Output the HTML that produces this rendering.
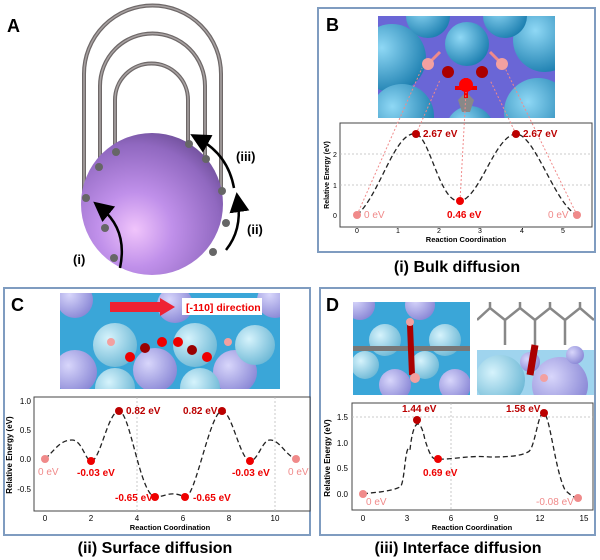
<!DOCTYPE html>
<html><head><meta charset="utf-8"><style>
body{margin:0;background:#fff}
svg{display:block;font-family:"Liberation Sans",sans-serif}
</style></head><body>
<svg width="600" height="560" viewBox="0 0 600 560" xmlns="http://www.w3.org/2000/svg">
<defs>
<radialGradient id="sph" cx="0.38" cy="0.68" r="0.75"><stop offset="0" stop-color="#f0c4fb"/><stop offset="0.35" stop-color="#c090ea"/><stop offset="0.8" stop-color="#9068c0"/><stop offset="1" stop-color="#6c4d96"/></radialGradient>
<radialGradient id="bl" cx="0.35" cy="0.35" r="0.7"><stop offset="0" stop-color="#8fd8f5"/><stop offset="1" stop-color="#1d7fb0"/></radialGradient>
<radialGradient id="lb" cx="0.35" cy="0.35" r="0.7"><stop offset="0" stop-color="#d6f3fc"/><stop offset="1" stop-color="#6fb9d6"/></radialGradient>
<radialGradient id="lv" cx="0.35" cy="0.35" r="0.7"><stop offset="0" stop-color="#d8d6fb"/><stop offset="1" stop-color="#8a88d6"/></radialGradient>
<marker id="ah" markerWidth="8" markerHeight="8" refX="4" refY="4" orient="auto"><path d="M0,0 L8,4 L0,8 Z" fill="#000"/></marker>
</defs>

<!-- Panel A -->
<text x="7" y="32" font-size="18" font-weight="bold">A</text>
<g fill="none" stroke="#6e6868" stroke-width="4">
<path d="M84,196 V74 A68.5,68.5 0 0 1 221,74 V192"/>
<path d="M100,168 V86 A52.5,52.5 0 0 1 205,86 V160"/>
<path d="M115,153 V100 A36.5,36.5 0 0 1 188,100 V145"/>
</g>
<g fill="none" stroke="#a8a2a2" stroke-width="1.5">
<path d="M84,196 V74 A68.5,68.5 0 0 1 221,74 V192"/>
<path d="M100,168 V86 A52.5,52.5 0 0 1 205,86 V160"/>
<path d="M115,153 V100 A36.5,36.5 0 0 1 188,100 V145"/>
</g>
<circle cx="152" cy="204" r="71" fill="url(#sph)"/>
<g fill="#666">
<circle cx="86" cy="198" r="4"/><circle cx="99" cy="167" r="4"/><circle cx="116" cy="152" r="4"/>
<circle cx="189" cy="144" r="4"/><circle cx="206" cy="159" r="4"/><circle cx="222" cy="191" r="4"/>
<circle cx="105" cy="228" r="4"/><circle cx="114" cy="258" r="4"/><circle cx="226" cy="223" r="4"/><circle cx="213" cy="252" r="4"/>
</g>
<g fill="none" stroke="#000" stroke-width="2.5">
<path d="M120,268 Q128,230 101,208" marker-end="url(#ah)"/>
<path d="M226,250 Q242,230 238,202" marker-end="url(#ah)"/>
<path d="M234,188 Q228,155 199,139" marker-end="url(#ah)"/>
</g>
<g font-size="13" font-weight="bold">
<text x="73" y="264">(i)</text><text x="247" y="234">(ii)</text><text x="236" y="161">(iii)</text>
</g>

<!-- Panel B -->
<rect x="318" y="8" width="277" height="244" fill="none" stroke="#7f9cc0" stroke-width="2"/>
<text x="326" y="31" font-size="18" font-weight="bold">B</text>
<g>
<rect x="378" y="16" width="177" height="102" fill="#6a66d6"/>
<clipPath id="cb"><rect x="378" y="16" width="177" height="102"/></clipPath>
<g clip-path="url(#cb)" fill="url(#bl)">
<circle cx="392" cy="58" r="34"/><circle cx="467" cy="44" r="22"/><circle cx="545" cy="40" r="32"/>
<circle cx="402" cy="116" r="32"/><circle cx="538" cy="112" r="34"/><circle cx="428" cy="16" r="22"/><circle cx="505" cy="16" r="22"/>
<circle cx="470" cy="130" r="24"/>
</g>
<path d="M458,100 L466,92 L474,100 L470,112 L462,112 Z" fill="#888"/>
<g stroke="#f08a8a" stroke-width="3"><line x1="428" y1="64" x2="440" y2="52"/><line x1="502" y1="64" x2="490" y2="52"/></g>
<circle cx="428" cy="64" r="6" fill="#f3a0a0"/><circle cx="502" cy="64" r="6" fill="#f3a0a0"/>
<circle cx="448" cy="72" r="6" fill="#a00"/><circle cx="482" cy="72" r="6" fill="#a00"/>
<path d="M455,88 H477 M466,78 V98" stroke="#e00" stroke-width="4"/>
<circle cx="466" cy="85" r="7" fill="#f00"/>
</g>
<rect x="340" y="123" width="252" height="104" fill="#fff" stroke="#444" stroke-width="1"/>
<g stroke="#bbb" stroke-dasharray="2,2" stroke-width="0.8"><line x1="340" y1="185" x2="592" y2="185"/><line x1="340" y1="154" x2="592" y2="154"/></g>
<g stroke="#f08a8a" stroke-dasharray="2,2" stroke-width="1"><line x1="357" y1="215" x2="422" y2="68"/><line x1="416" y1="134" x2="440" y2="80"/><line x1="460" y1="201" x2="466" y2="92"/><line x1="516" y1="134" x2="490" y2="80"/><line x1="577" y1="215" x2="505" y2="68"/></g>
<path d="M357,215 C380,195 395,130 416,134 C430,137 440,204 460,201 C480,198 495,135 516,134 C535,134 555,205 577,215" fill="none" stroke="#222" stroke-width="1.3" stroke-dasharray="5,3"/>
<circle cx="357" cy="215" r="4" fill="#f08a8a"/><circle cx="416" cy="134" r="4" fill="#b00"/><circle cx="460" cy="201" r="4" fill="#e00"/><circle cx="516" cy="134" r="4" fill="#b00"/><circle cx="577" cy="215" r="4" fill="#f08a8a"/>
<g font-size="10" font-weight="bold"><text x="423" y="137" fill="#b00">2.67 eV</text><text x="523" y="137" fill="#b00">2.67 eV</text><text x="447" y="218" fill="#e00">0.46 eV</text></g>
<g font-size="10" fill="#f08a8a"><text x="364" y="218">0 eV</text><text x="548" y="218">0 eV</text></g>
<g font-size="7" text-anchor="middle"><text x="357" y="233">0</text><text x="398" y="233">1</text><text x="439" y="233">2</text><text x="480" y="233">3</text><text x="522" y="233">4</text><text x="563" y="233">5</text>
<text x="335" y="218">0</text><text x="335" y="188">1</text><text x="335" y="157">2</text></g>
<text x="466" y="242" font-size="7.5" font-weight="bold" text-anchor="middle">Reaction Coordination</text>
<text transform="translate(329,175) rotate(-90)" font-size="7" font-weight="bold" text-anchor="middle">Relative Energy (eV)</text>
<text x="457" y="272" font-size="16" font-weight="bold" text-anchor="middle">(i) Bulk diffusion</text>

<!-- Panel C -->
<rect x="4" y="288" width="306" height="247" fill="none" stroke="#7f9cc0" stroke-width="2"/>
<text x="11" y="311" font-size="18" font-weight="bold">C</text>
<rect x="60" y="293" width="220" height="96" fill="#3aa6d8"/>
<clipPath id="cc"><rect x="60" y="293" width="220" height="96"/></clipPath>
<g clip-path="url(#cc)">
<g fill="url(#lv)"><circle cx="75" cy="300" r="18"/><circle cx="175" cy="305" r="18"/><circle cx="275" cy="300" r="18"/>
<circle cx="75" cy="372" r="22"/><circle cx="155" cy="370" r="22"/><circle cx="235" cy="372" r="22"/></g>
<g fill="url(#lb)"><circle cx="115" cy="345" r="22"/><circle cx="195" cy="345" r="22"/><circle cx="255" cy="345" r="20"/><circle cx="115" cy="388" r="20"/><circle cx="200" cy="388" r="20"/></g>
</g>
<rect x="110" y="302" width="55" height="10" fill="#e23"/><path d="M160,298 L175,307 L160,316 Z" fill="#e23"/>
<rect x="182" y="298" width="80" height="17" fill="#fff"/>
<text x="186" y="311" font-size="10.5" font-weight="bold" fill="#e00">[-110] direction</text>
<g fill="#e00"><circle cx="130" cy="357" r="5"/><circle cx="162" cy="342" r="5"/><circle cx="178" cy="342" r="5"/><circle cx="207" cy="357" r="5"/></g>
<g fill="#900"><circle cx="145" cy="348" r="5"/><circle cx="192" cy="350" r="5"/></g>
<g fill="#f2a0a0"><circle cx="111" cy="342" r="4"/><circle cx="228" cy="342" r="4"/></g>
<rect x="34" y="397" width="276" height="114" fill="#fff" stroke="#444" stroke-width="1"/>
<g stroke="#bbb" stroke-dasharray="2,2" stroke-width="0.8"><line x1="137" y1="397" x2="137" y2="511"/><line x1="275" y1="397" x2="275" y2="511"/></g>
<path d="M45,459 C55,450 60,440 72,440 C82,440 85,460 91,461 C100,462 108,411 119,411 C130,411 140,495 155,497 C165,497 170,490 185,497 C195,500 210,411 222,411 C232,411 240,460 250,461 C258,461 262,440 270,440 C280,440 285,455 296,459" fill="none" stroke="#222" stroke-width="1.3" stroke-dasharray="5,3"/>
<circle cx="45" cy="459" r="4" fill="#f08a8a"/><circle cx="91" cy="461" r="4" fill="#e00"/><circle cx="119" cy="411" r="4" fill="#b00"/><circle cx="155" cy="497" r="4" fill="#e00"/><circle cx="185" cy="497" r="4" fill="#e00"/><circle cx="222" cy="411" r="4" fill="#b00"/><circle cx="250" cy="461" r="4" fill="#e00"/><circle cx="296" cy="459" r="4" fill="#f08a8a"/>
<g font-size="10" font-weight="bold"><text x="126" y="414" fill="#b00">0.82 eV</text><text x="183" y="414" fill="#b00">0.82 eV</text>
<text x="77" y="476" fill="#e00">-0.03 eV</text><text x="232" y="476" fill="#e00">-0.03 eV</text><text x="115" y="501" fill="#e00">-0.65 eV</text><text x="193" y="501" fill="#e00">-0.65 eV</text></g>
<g font-size="10" fill="#f08a8a"><text x="38" y="475">0 eV</text><text x="288" y="475">0 eV</text></g>
<g font-size="8" text-anchor="middle"><text x="45" y="521">0</text><text x="91" y="521">2</text><text x="137" y="521">4</text><text x="183" y="521">6</text><text x="229" y="521">8</text><text x="275" y="521">10</text></g>
<g font-size="8" text-anchor="end"><text x="31" y="404">1.0</text><text x="31" y="433">0.5</text><text x="31" y="462">0.0</text><text x="31" y="492">-0.5</text></g>
<text x="170" y="530" font-size="7.5" font-weight="bold" text-anchor="middle">Reaction Coordination</text>
<text transform="translate(12,455) rotate(-90)" font-size="8" font-weight="bold" text-anchor="middle">Relative Energy (eV)</text>
<text x="155" y="553" font-size="16" font-weight="bold" text-anchor="middle">(ii) Surface diffusion</text>

<!-- Panel D -->
<rect x="320" y="288" width="275" height="247" fill="none" stroke="#7f9cc0" stroke-width="2"/>
<text x="326" y="311" font-size="18" font-weight="bold">D</text>
<rect x="353" y="302" width="117" height="93" fill="#3aa6d8"/>
<clipPath id="cd1"><rect x="353" y="302" width="117" height="93"/></clipPath>
<g clip-path="url(#cd1)">
<g fill="url(#lv)"><circle cx="360" cy="305" r="15"/><circle cx="420" cy="305" r="15"/><circle cx="395" cy="385" r="16"/><circle cx="455" cy="385" r="16"/></g>
<g fill="url(#lb)"><circle cx="385" cy="340" r="16"/><circle cx="445" cy="340" r="16"/><circle cx="365" cy="365" r="14"/><circle cx="425" cy="365" r="14"/></g>
</g>
<rect x="353" y="346" width="117" height="5" fill="#777"/>
<path d="M410,325 L412,375" stroke="#a00" stroke-width="6"/><circle cx="410" cy="322" r="4" fill="#f2a0a0"/><circle cx="415" cy="378" r="5" fill="#f2a0a0"/>
<rect x="477" y="302" width="117" height="93" fill="#fff"/>
<clipPath id="cd2"><rect x="477" y="302" width="117" height="93"/></clipPath>
<g clip-path="url(#cd2)">
<rect x="477" y="350" width="117" height="45" fill="#9fd4ee"/>
<g fill="url(#lv)"><circle cx="560" cy="385" r="28"/><circle cx="530" cy="362" r="10"/><circle cx="575" cy="355" r="9"/></g>
<g fill="url(#lb)"><circle cx="500" cy="380" r="25"/></g>
<path d="M477,320 L490,308 L505,320 L520,308 L535,320 L550,308 L565,320 L580,308 L594,320 M490,308 V302 M520,308 V302 M550,308 V302 M580,308 V302 M505,320 V345 M535,320 V345 M565,320 V345" fill="none" stroke="#888" stroke-width="2.5"/>
<path d="M535,345 L530,375" stroke="#a00" stroke-width="7"/><circle cx="544" cy="378" r="4" fill="#f2a0a0"/>
</g>
<rect x="352" y="403" width="241" height="107" fill="#fff" stroke="#444" stroke-width="1"/>
<g stroke="#bbb" stroke-dasharray="2,2" stroke-width="0.8"><line x1="451" y1="403" x2="451" y2="510"/><line x1="352" y1="417" x2="593" y2="417"/></g>
<path d="M363,494 C375,492 390,492 400,487 C405,485 405,440 410,450 C413,420 420,415 425,440 C430,455 432,460 438,459 C450,460 470,455 490,457 C510,457 520,456 528,452 C535,450 538,410 544,413 C550,416 555,470 565,490 C570,495 574,497 576,498" fill="none" stroke="#222" stroke-width="1.3" stroke-dasharray="5,3"/>
<circle cx="363" cy="494" r="4" fill="#f08a8a"/><circle cx="417" cy="420" r="4" fill="#b00"/><circle cx="438" cy="459" r="4" fill="#e00"/><circle cx="544" cy="413" r="4" fill="#b00"/><circle cx="578" cy="498" r="4" fill="#f08a8a"/>
<g font-size="10" font-weight="bold"><text x="402" y="412" fill="#b00">1.44 eV</text><text x="506" y="412" fill="#b00">1.58 eV</text><text x="423" y="476" fill="#e00">0.69 eV</text></g>
<g font-size="10" fill="#f08a8a"><text x="366" y="505">0 eV</text><text x="536" y="505">-0.08 eV</text></g>
<g font-size="8" text-anchor="middle"><text x="363" y="521">0</text><text x="407" y="521">3</text><text x="451" y="521">6</text><text x="496" y="521">9</text><text x="540" y="521">12</text><text x="584" y="521">15</text></g>
<g font-size="8" text-anchor="end"><text x="348" y="420">1.5</text><text x="348" y="446">1.0</text><text x="348" y="471">0.5</text><text x="348" y="497">0.0</text></g>
<text x="472" y="530" font-size="7.5" font-weight="bold" text-anchor="middle">Reaction Coordination</text>
<text transform="translate(330,458) rotate(-90)" font-size="8" font-weight="bold" text-anchor="middle">Relative Energy (eV)</text>
<text x="458" y="553" font-size="16" font-weight="bold" text-anchor="middle">(iii) Interface diffusion</text>
</svg>
</body></html>
